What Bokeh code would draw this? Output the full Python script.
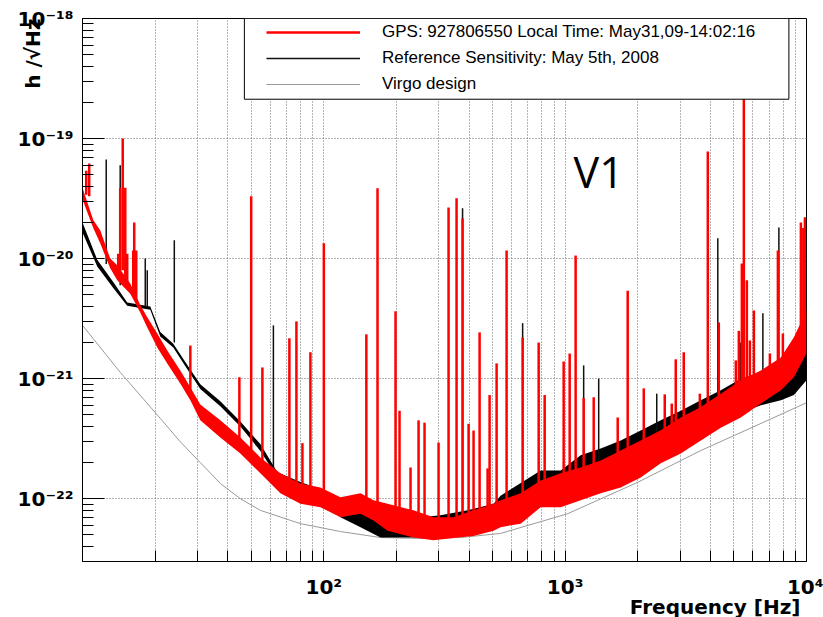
from bokeh.plotting import figure
from bokeh.models import FixedTicker, Label, Legend, LegendItem, BoxAnnotation, Title
from bokeh.embed import file_html
from bokeh.resources import INLINE

# ---------------- data ----------------
# red: GPS 927806550 spectrum (noise floor band + lines)
red_f = [10, 11.08, 11.84, 13.03, 13.93, 15.77, 17.35, 18.55, 20.41, 22.45,
         25.42, 27.98, 30.77, 37.25, 45.1, 54.58, 66.07, 79.98, 96.8, 117.2,
         141.9, 160.6, 183.6, 235.3, 284.8, 344.8, 417.3, 505, 540, 653.9,
         791.6, 958, 1160, 1404, 1699, 2056, 2489, 3013, 3648, 4415,
         5344, 6470, 7832, 8867, 10000]
red_hi = [3.9e-20, 2.1e-20, 1.72e-20, 1.0e-20, 8.8e-21, 6.2e-21, 4.1e-21, 3.24e-21, 2.38e-21, 1.72e-21,
          1.17e-21, 8.5e-22, 6.1e-22, 4.5e-22, 3.24e-22, 2.21e-22, 1.63e-22, 1.34e-22, 1.24e-22, 1.03e-22,
          1.11e-22, 9.7e-23, 9.1e-23, 8.0e-23, 7.0e-23, 7.0e-23, 8.0e-23, 9.1e-23, 9.7e-23, 1.11e-22,
          1.42e-22, 1.63e-22, 1.82e-22, 2.08e-22, 2.52e-22, 3.06e-22, 3.71e-22, 4.75e-22, 5.8e-22, 7.5e-22,
          9.7e-22, 1.17e-21, 1.5e-21, 2.21e-21, 3.7e-21]
red_lo = [3.1e-20, 1.8e-20, 1.34e-20, 8.3e-21, 6.6e-21, 5.1e-21, 3.56e-21, 2.67e-21, 1.82e-21, 1.34e-21,
          9.1e-22, 6.6e-22, 4.5e-22, 3.24e-22, 2.38e-22, 1.63e-22, 1.11e-22, 9.1e-23, 8.5e-23, 7.0e-23,
          7.5e-23, 6.6e-23, 5.4e-23, 4.75e-23, 4.5e-23, 4.7e-23, 4.9e-23, 5.4e-23, 5.8e-23, 6.2e-23,
          8.5e-23, 8.5e-23, 9.7e-23, 1.11e-22, 1.24e-22, 1.5e-22, 1.97e-22, 2.38e-22, 3.06e-22, 3.9e-22,
          4.75e-22, 6.2e-22, 8.0e-22, 1.03e-21, 1.63e-21]

red_line_f = [10.36, 10.66, 14.06, 14.33, 14.68, 15.04, 15.32, 16.23, 16.38, 16.70,
              27.98, 44.67, 50, 55.64, 71.99, 76.98, 81.53, 87.98, 100, 150,
              166.9, 198.2, 205.9, 228.7, 246.9, 261.4, 298.8, 328.7, 354.8, 375.7,
              397.9, 417.3, 442.0, 477.0, 486.2, 519.9, 571.9, 666.5, 776.6, 822.4,
              985.8, 1044, 1105, 1193, 1313, 1651, 1816, 2117, 2586, 2765,
              2872, 3100, 3614, 3900, 4331, 5095, 5243, 5396, 5500, 5660,
              5826, 6053, 7051, 7611, 7982, 9478, 9700, 9848]
red_line_top = [5.4e-20, 6.2e-20, 1.1e-20, 3.9e-20, 1.0e-19, 3.9e-20, 1.1e-20, 1.17e-20, 2.0e-20, 1.17e-20,
                1.89e-21, 1.03e-21, 3.3e-20, 1.24e-21, 2.17e-21, 3.0e-21, 2.9e-22, 1.66e-21, 1.34e-20, 2.34e-21,
                3.86e-20, 3.64e-21, 5.4e-22, 1.82e-22, 4.5e-22, 4.3e-22, 2.94e-22, 2.67e-20, 3.18e-20, 2.17e-20,
                4.2e-22, 3.7e-22, 2.43e-21, 1.79e-22, 7.3e-22, 1.34e-21, 1.17e-20, 2.2e-21, 2.0e-21, 7.3e-22,
                1.39e-21, 1.62e-21, 1.06e-20, 6.9e-22, 7.0e-22, 4.75e-22, 5.4e-21, 8.3e-22, 7.4e-22, 6.2e-22,
                1.45e-21, 1.66e-21, 7.5e-22, 7.8e-20, 2.94e-21, 1.42e-21, 2.5e-21, 9.1e-21, 2.43e-19, 6.6e-21,
                2.08e-21, 3.7e-21, 1.62e-21, 1.17e-20, 2.38e-21, 2.0e-20, 1.8e-20, 2.2e-20]
red_line_base = [3.4e-20, 3.3e-20, 8e-21, 8e-21, 8e-21, 7e-21, 6e-21, 5e-21, 5e-21, 4.5e-21,
                 7.5e-22, 2.8e-22, 2.5e-22, 1.9e-22, 1.3e-22, 1.25e-22, 1.2e-22, 1.15e-22, 1.1e-22, 9e-23,
                 8e-23, 7e-23, 7e-23, 6.5e-23, 6e-23, 6e-23, 6e-23, 6e-23, 6e-23, 6e-23,
                 6.5e-23, 6.5e-23, 6.5e-23, 7e-23, 7e-23, 7e-23, 7.5e-23, 8.5e-23, 1.0e-22, 1.05e-22,
                 1.2e-22, 1.2e-22, 1.25e-22, 1.3e-22, 1.4e-22, 1.7e-22, 1.8e-22, 2.2e-22, 2.8e-22, 3.0e-22,
                 3.1e-22, 3.5e-22, 4.2e-22, 4.6e-22, 5.5e-22, 6.5e-22, 6.8e-22, 7e-22, 7e-22, 7.5e-22,
                 8e-22, 8.5e-22, 1.1e-21, 1.2e-21, 1.3e-21, 2.5e-21, 2.6e-21, 2.8e-21]

# black: reference sensitivity, May 5th 2008
blk_f = [10, 11.51, 13.41, 15.32, 19.09, 21.0, 23.78, 27.18, 30.77, 37.25,
         45.1, 54.58, 64.2, 80.0, 96.8, 117.2, 141.9, 171.7, 207.9, 251.6,
         304.5, 394.1, 505, 540, 791.6, 958, 1160, 1404, 1699, 2056,
         2489, 3013, 3648, 4415, 5344, 6470, 7832, 8867, 10000]
blk_hi = [2.0e-20, 9.8e-21, 6.4e-21, 4.3e-21, 4.0e-21, 2.45e-21, 1.95e-21, 1.3e-21, 9.0e-22, 6.5e-22,
          4.4e-22, 2.85e-22, 1.66e-22, 1.38e-22, 1.2e-22, 9.7e-23, 8.0e-23, 7.0e-23, 6.6e-23, 7.0e-23,
          7.3e-23, 8.0e-23, 9.1e-23, 1.06e-22, 1.72e-22, 1.72e-22, 2.3e-22, 2.62e-22, 3.06e-22, 3.7e-22,
          4.5e-22, 5.4e-22, 6.6e-22, 8.0e-22, 1.0e-21, 1.13e-21, 1.17e-21, 1.56e-21, 2.08e-21]
blk_lo = [1.65e-20, 8.6e-21, 5.7e-21, 4.05e-21, 3.75e-21, 2.25e-21, 1.82e-21, 1.2e-21, 8.2e-22, 5.9e-22,
          4.0e-22, 2.5e-22, 1.5e-22, 1.17e-22, 9.7e-23, 7.0e-23, 5.8e-23, 4.75e-23, 4.75e-23, 4.75e-23,
          4.9e-23, 5.4e-23, 5.8e-23, 6.0e-23, 9.7e-23, 9.7e-23, 1.17e-22, 1.29e-22, 1.56e-22, 1.89e-22,
          2.3e-22, 2.78e-22, 3.4e-22, 4.1e-22, 5.2e-22, 6.0e-22, 6.6e-22, 7.3e-22, 9.7e-22]

blk_line_f = [12.54, 14.33, 18.20, 18.55, 24.01, 61.80, 375.7, 666.5, 1193, 1377,
              2396, 4290, 5344, 6595, 7684, 9848]
blk_line_top = [6.7e-20, 5.98e-20, 1.0e-20, 8.0e-21, 1.42e-20, 2.78e-21, 2.63e-20, 2.9e-21, 1.29e-21, 1.0e-21,
                7.5e-22, 1.48e-20, 2.0e-21, 3.5e-21, 1.82e-20, 2.2e-20]
blk_line_base = [9e-21, 6e-21, 4e-21, 4e-21, 2e-21, 1.6e-22, 6e-23, 8e-23, 1.3e-22, 1.4e-22,
                 2.6e-22, 5e-22, 7e-22, 9e-22, 1.2e-21, 2.5e-21]

# grey: Virgo design sensitivity
design_f = [10, 14.33, 21.0, 25.42, 30.77, 37.25, 45.1, 54.58, 80, 117.2,
            171.7, 251.6, 368.6, 540, 1024, 1998, 3648, 6918, 10000]
design_h = [2.78e-21, 1.13e-21, 4.67e-22, 2.98e-22, 2.0e-22, 1.34e-22, 1.0e-22, 8.0e-23, 6.2e-23, 5.33e-23,
            4.75e-23, 4.67e-23, 4.75e-23, 5.14e-23, 7.5e-23, 1.37e-22, 2.52e-22, 4.5e-22, 6.3e-22]

legend_labels = ["GPS: 927806550 Local Time: May31,09-14:02:16",
                 "Reference Sensitivity: May 5th, 2008",
                 "Virgo design"]

x_major = [10, 100, 1000, 10000]
x_labels = {10: "", 100: "10²", 1000: "10³", 10000: "10⁴"}
y_major = [1e-22, 1e-21, 1e-20, 1e-19, 1e-18]
y_labels = {1e-22: "10⁻²²", 1e-21: "10⁻²¹", 1e-20: "10⁻²⁰", 1e-19: "10⁻¹⁹", 1e-18: "10⁻¹⁸"}

# ---------------- figure ----------------
p = figure(frame_width=724, frame_height=543,
           x_axis_type="log", y_axis_type="log",
           x_range=(10, 1e4), y_range=(3e-23, 1e-18),
           output_backend="svg", toolbar_location=None,
           min_border_left=82, min_border_right=17, min_border_top=18, min_border_bottom=56,
           background_fill_color="white", border_fill_color="white")

p.outline_line_color = "black"
p.outline_line_width = 1

x_minor = [k * d for d in (10, 100, 1000) for k in range(2, 10)]
y_minor = [k * d for d in (1e-23, 1e-22, 1e-21, 1e-20, 1e-19) for k in range(2, 10)]
y_minor = [v for v in y_minor if v >= 3e-23]

p.xaxis.ticker = FixedTicker(ticks=x_major, minor_ticks=x_minor)
p.yaxis.ticker = FixedTicker(ticks=y_major, minor_ticks=y_minor)
p.xaxis.major_label_overrides = x_labels
p.yaxis.major_label_overrides = y_labels

for ax in (p.xaxis, p.yaxis):
    ax.axis_line_color = "black"
    ax.major_tick_line_color = "black"
    ax.minor_tick_line_color = "black"
    ax.major_tick_out = 0
    ax.minor_tick_out = 0
    ax.minor_tick_in = 11
    ax.major_label_text_font = "DejaVu Sans"
    ax.major_label_text_font_style = "bold"
    ax.major_label_text_font_size = "20px"
    ax.major_label_text_color = "black"
p.xaxis.major_tick_in = 11
p.yaxis.major_tick_in = 22
p.xaxis.major_label_standoff = 13
p.yaxis.major_label_standoff = 9

# y title: top aligned along the left axis, ROOT style
y_title = Title(text="h /√Hz", align="right", standoff=-60,
                text_font="DejaVu Sans", text_font_style="bold", text_font_size="20px",
                text_color="black")
p.add_layout(y_title, "left")

p.xgrid.grid_line_color = "#666666"
p.xgrid.grid_line_dash = "1 2"
p.xgrid.grid_line_width = 1
p.xgrid.minor_grid_line_color = "#666666"
p.xgrid.minor_grid_line_dash = "1 2"
p.xgrid.minor_grid_line_width = 1
p.ygrid.grid_line_color = "#666666"
p.ygrid.grid_line_dash = "1 2"
p.ygrid.grid_line_width = 1

# ---------------- curves ----------------
r_design = p.line(design_f, design_h, line_color="#9a9a9a", line_width=1)

p.varea(x=blk_f, y1=blk_lo, y2=blk_hi, fill_color="black")
r_blk = p.segment(x0=blk_line_f, y0=blk_line_base, x1=blk_line_f, y1=blk_line_top,
                  line_color="#111111", line_width=1.5)

p.varea(x=red_f, y1=red_lo, y2=red_hi, fill_color="#ff0000")
r_red = p.segment(x0=red_line_f, y0=red_line_base, x1=red_line_f, y1=red_line_top,
                  line_color="#ff0000", line_width=2.5)

# ---------------- legend ----------------
box = BoxAnnotation(left=46.86, right=8453, top=1e-18, bottom=2.126e-19,
                    fill_color="white", fill_alpha=1.0,
                    line_color="black", line_width=1, line_alpha=1.0)
p.add_layout(box)

legend = Legend(items=[LegendItem(label=legend_labels[0], renderers=[r_red]),
                       LegendItem(label=legend_labels[1], renderers=[r_blk]),
                       LegendItem(label=legend_labels[2], renderers=[r_design])],
                location=(184, 467), padding=0, margin=0, spacing=6,
                label_height=20, glyph_height=20, glyph_width=94, label_standoff=22,
                label_text_font="Liberation Sans", label_text_font_size="17px",
                label_text_color="black",
                background_fill_alpha=0, border_line_alpha=0)
p.add_layout(legend)

# ---------------- texts ----------------
# x title in the bottom panel, right aligned at the end of the axis
p.add_layout(Label(x=1e4, y=3e-23, x_offset=-6, y_offset=-45,
                   text="Frequency [Hz]", text_align="right", text_baseline="middle",
                   text_font="DejaVu Sans", text_font_style="bold", text_font_size="20px",
                   text_color="black"), "below")

p.add_layout(Label(x=1084, y=3.86e-20, y_offset=17, text="V1", text_font="Open Sans",
                   text_font_size="43px", text_color="black", text_baseline="alphabetic"))

open("out.html", "w").write(file_html(p, INLINE))
